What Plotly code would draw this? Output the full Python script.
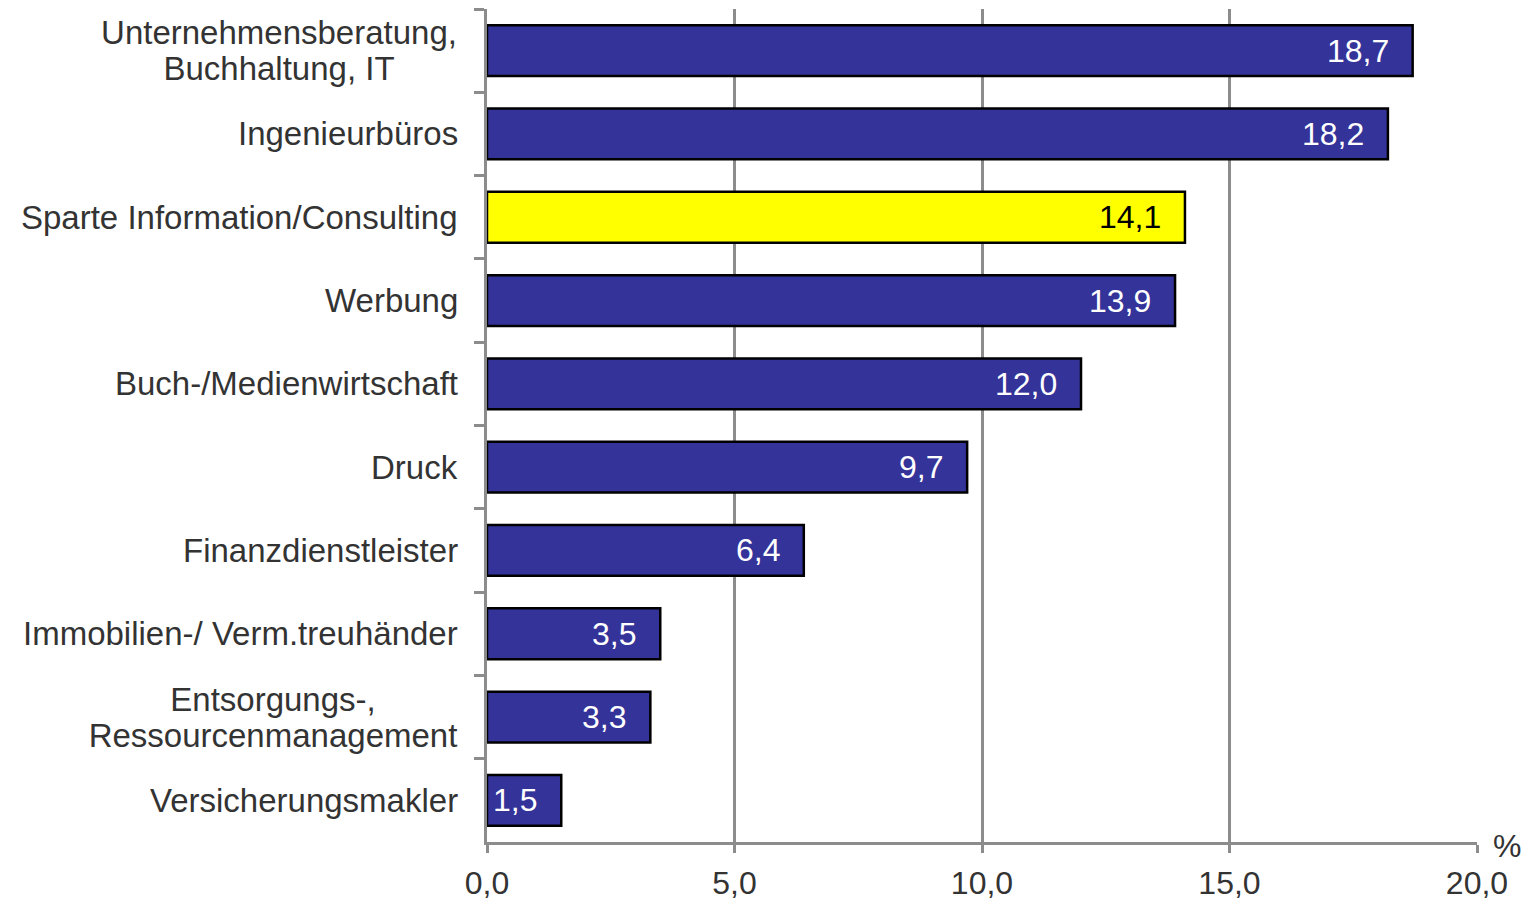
import plotly.graph_objects as go

categories = [
    "Unternehmensberatung,<br>Buchhaltung, IT",
    "Ingenieurbüros",
    "Sparte Information/Consulting",
    "Werbung",
    "Buch-/Medienwirtschaft",
    "Druck",
    "Finanzdienstleister",
    "Immobilien-/ Verm.treuhänder",
    "Entsorgungs-,<br>Ressourcenmanagement",
    "Versicherungsmakler",
]
values = [18.7, 18.2, 14.1, 13.9, 12.0, 9.7, 6.4, 3.5, 3.3, 1.5]
highlight = "Sparte Information/Consulting"
x_ticks = [0, 5, 10, 15, 20]

FONT = "Liberation Sans, Arial, sans-serif"
GRID = "#8c8c8c"
BLUE = "#333399"
YELLOW = "#ffff00"
TEXT = "#333333"
# box widths for the two-line labels so the lines stay centred on each other
BOX_W = {0: 358, 8: 370}
LINE_GAP = 18

colors = [YELLOW if c == highlight else BLUE for c in categories]
fig = go.Figure(
    go.Bar(
        x=values,
        y=categories,
        orientation="h",
        marker=dict(color=colors, line=dict(color="black", width=2.5)),
        hoverinfo="x+y",
    )
)

# value labels inside bar ends
for c, v in zip(categories, values):
    fig.add_annotation(
        x=v, y=c, xref="x", yref="y", text=f"{v:.1f}".replace(".", ","),
        showarrow=False, xanchor="right", xshift=-22,
        font=dict(family=FONT, size=32, color="black" if c == highlight else "white"),
    )

# category labels
for i, c in enumerate(categories):
    lines = c.split("<br>")
    if len(lines) == 1:
        fig.add_annotation(
            x=0, y=c, xref="paper", yref="y", text=c, showarrow=False,
            xanchor="right", xshift=-27,
            font=dict(family=FONT, size=33, color=TEXT),
        )
        continue
    for k, line in enumerate(lines):
        fig.add_annotation(
            x=0, y=c, xref="paper", yref="y", text=line, showarrow=False,
            xanchor="right", xshift=-27, width=BOX_W[i], align="center",
            yshift=LINE_GAP if k == 0 else -LINE_GAP,
            font=dict(family=FONT, size=33, color=TEXT),
        )

fig.add_annotation(
    x=1, y=0, xref="paper", yref="paper", text="%", showarrow=False,
    xanchor="left", yanchor="middle", xshift=14, yshift=-4,
    font=dict(family=FONT, size=32, color=TEXT),
)

fig.update_layout(
    width=1524,
    height=901,
    margin=dict(l=487, r=47, t=9, b=59),
    plot_bgcolor="white",
    paper_bgcolor="white",
    bargap=0.39,
    showlegend=False,
    separators=",.",
    font=dict(family=FONT, size=32, color=TEXT),
)
fig.update_xaxes(
    range=[0, 20], tickvals=x_ticks, tickformat=".1f", ticklabelstandoff=3,
    showgrid=True, gridcolor=GRID, gridwidth=2.5,
    showline=True, linecolor=GRID, linewidth=2.5,
    ticks="outside", ticklen=8, tickwidth=2.5, tickcolor=GRID,
    zeroline=False, fixedrange=True, automargin=False,
)
fig.update_yaxes(
    type="category", autorange="reversed", showticklabels=False,
    showgrid=False, showline=True, linecolor=GRID, linewidth=2.5,
    ticks="outside", tickson="boundaries", ticklen=10, tickwidth=2.5, tickcolor=GRID,
    fixedrange=True, automargin=False,
)

# drop the default page margin so the figure fills the window exactly
fig.write_html(
    "out.html",
    config={"displayModeBar": False},
    post_script="document.body.style.margin='0';document.body.style.overflow='hidden';",
)
